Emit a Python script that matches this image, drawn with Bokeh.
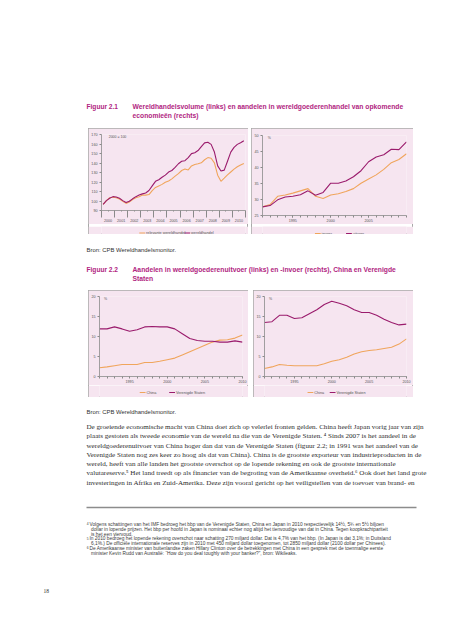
from bokeh.plotting import figure
from bokeh.models import Range1d, FixedTicker, Label, Spacer
from bokeh.layouts import column, row
from bokeh.embed import file_html
from bokeh.resources import INLINE
from bokeh.core.properties import value

# ---------------- data ----------------
quarter_years = list(range(2000, 2011))
quarters = [1, 2, 3, 4]
wereldhandel = [96.5, 100.4, 102.9, 104.6,
                104.2, 102.9, 100.4, 98.4,
                99.7, 102.3, 104.6, 106.2,
                107.5, 108.4, 111.0, 115.9,
                120.7, 122.4, 125.0, 127.2,
                130.5, 132.1, 135.3, 139.2,
                141.8, 142.4, 145.7, 149.9,
                150.8, 153.1, 157.3, 161.2,
                161.8, 159.6, 151.5, 137.0,
                131.5, 132.5, 141.8, 151.5,
                156.4, 159.6, 161.3, 163.5]
relevante_wereldhandel = [96.5, 100.4, 103.5, 104.0,
                          103.5, 102.0, 99.7, 97.5,
                          99.0, 101.5, 103.5, 104.5,
                          106.2, 106.2, 106.8, 111.0,
                          114.3, 115.9, 117.5, 119.8,
                          121.1, 123.3, 126.2, 128.8,
                          132.1, 133.7, 132.7, 136.9,
                          138.5, 139.2, 140.2, 143.4,
                          145.7, 145.0, 140.2, 127.2,
                          120.7, 124.0, 127.5, 130.5,
                          133.5, 136.0, 138.0, 139.5]

years = list(range(1991, 2011))
opk_uitvoer = [27.7, 28.1, 29.9, 30.8, 31.0, 31.5, 32.7, 31.3, 32.2, 35.1,
               35.1, 35.8, 37.1, 39.0, 41.8, 43.3, 44.0, 45.7, 45.6, 48.0]
opk_invoer = [27.7, 28.4, 31.0, 31.4, 32.0, 32.7, 33.4, 31.0, 30.3, 31.4,
              31.8, 32.5, 33.4, 35.1, 36.4, 37.7, 39.4, 41.5, 42.5, 44.3]
china_uitvoer = [2.2, 2.4, 2.7, 3.0, 3.0, 3.0, 3.5, 3.5, 3.8, 4.2,
                 4.6, 5.4, 6.2, 7.0, 7.8, 8.6, 9.1, 9.2, 9.6, 10.4]
vs_uitvoer = [11.9, 11.9, 12.4, 11.9, 11.3, 11.7, 12.4, 12.5, 12.4, 12.4,
              11.9, 10.7, 9.5, 9.0, 8.8, 8.8, 8.6, 8.6, 8.9, 8.6]
china_invoer = [2.0, 2.4, 3.0, 2.8, 2.7, 2.7, 2.7, 2.7, 3.2, 3.8,
                4.2, 4.8, 5.6, 6.2, 6.5, 6.7, 7.0, 7.3, 8.1, 9.4]
vs_invoer = [13.5, 13.7, 15.3, 15.3, 14.5, 14.7, 15.7, 16.7, 18.0, 18.8,
             18.3, 17.7, 16.7, 16.0, 16.0, 15.3, 14.3, 13.5, 12.9, 13.1]

legend_21_links = ["relevante wereldhandel", "wereldhandel"]
legend_21_rechts = ["invoer", "uitvoer"]
legend_22 = ["China", "Verenigde Staten"]
y_ticks_21_links = [90, 100, 110, 120, 130, 140, 150, 160, 170]
y_ticks_21_rechts = [25, 30, 35, 40, 45, 50]
y_ticks_22 = [0, 5, 10, 15, 20]
x_ticks_21_rechts = [1995, 2000, 2005]
x_ticks_22 = [1995, 2000, 2005, 2010]

fig21_label = "Figuur 2.1"
fig21_title = ["Wereldhandelsvolume (links) en aandelen in wereldgoederenhandel van opkomende",
               "economieën (rechts)"]
fig22_label = "Figuur 2.2"
fig22_title = ["Aandelen in wereldgoederenuitvoer (links) en -invoer (rechts), China en Verenigde",
               "Staten"]
bron = "Bron: CPB Wereldhandelsmonitor."
body = [
    "De groeiende economische macht van China doet zich op velerlei fronten gelden. China heeft Japan vorig jaar van zijn",
    "plaats gestoten als tweede economie van de wereld na die van de Verenigde Staten. \u2074 Sinds 2007 is het aandeel in de",
    "wereldgoederenuitvoer van China hoger dan dat van de Verenigde Staten (figuur 2.2; in 1991 was het aandeel van de",
    "Verenigde Staten nog zes keer zo hoog als dat van China). China is de grootste exporteur van industrieproducten in de",
    "wereld, heeft van alle landen het grootste overschot op de lopende rekening en ook de grootste internationale",
    "valutareserve.\u2075 Het land treedt op als financier van de begroting van de Amerikaanse overheid.\u2076 Ook doet het land grote",
    "investeringen in Afrika en Zuid-Amerika. Deze zijn vooral gericht op het veiligstellen van de toevoer van brand- en",
]
footnote_marks = ["4", "", "", "5", "", "6", ""]
footnotes = [
    "Volgens schattingen van het IMF bedroeg het bbp van de Verenigde Staten, China en Japan in 2010 respectievelijk 14\u00bd, 5\u00be en 5\u00bd biljoen",
    "dollar in lopende prijzen. Het bbp per hoofd in Japan is nominaal echter nog altijd het tienvoudige van dat in China. Tegen koopkrachtpariteit",
    "is het een viervoud.",
    "In 2010 bedroeg het lopende rekening overschot naar schatting 270 miljard dollar. Dat is 4,7% van het bbp. (In Japan is dat 3,1%; in Duitsland",
    "6,1%.) De offici\u00eble internationale reserves zijn in 2010 met 450 miljard dollar toegenomen, tot 2850 miljard dollar (2100 dollar per Chinees).",
    "De Amerikaanse minister van buitenlandse zaken Hillary Clinton over de betrekkingen met China in een gesprek met de toenmalige eerste",
    "minister Kevin Rudd van Australi\u00eb: \u201cHow do you deal toughly with your banker?\u201d, bron: Wikileaks.",
]
page_number = "18"

# ---------------- style ----------------
PINK = "#f6e5f0"
BORDER = "#a8a8a8"
PURPLE = "#9a1b6c"
ORANGE = "#f0a55c"
MAGENTA = "#b1257f"
AXIS = "#8a8a8a"
TICKTXT = "#555555"
SANS = "Liberation Sans"
SERIF = "Liberation Serif"
W = 453
BOX_STYLE = {"outline": f"1px solid {BORDER}", "outline-offset": "-1px"}


def make_chart(width, height, borders, xr, yr, xticks, xminor, yticks, series,
               corner_text, corner_x, tick_out, standoff, overrides=None, minor_out=2):
    l, r, t, b = borders
    p = figure(width=width, height=height, x_range=Range1d(*xr), y_range=Range1d(*yr),
               output_backend="svg", toolbar_location=None,
               min_border_left=l, min_border_right=r, min_border_top=t, min_border_bottom=b)
    p.background_fill_color = PINK
    p.border_fill_color = PINK
    p.outline_line_color = None
    p.grid.visible = False

    xa = p.xaxis[0]
    ya = p.yaxis[0]
    xa.ticker = FixedTicker(ticks=xticks, minor_ticks=xminor)
    if overrides:
        xa.major_label_overrides = overrides
    ya.ticker = FixedTicker(ticks=yticks, minor_ticks=[])
    for ax in (xa, ya):
        ax.axis_line_color = AXIS
        ax.axis_line_width = 0.8
        ax.major_tick_line_color = AXIS
        ax.minor_tick_line_color = AXIS
        ax.major_tick_in = 0
        ax.minor_tick_in = 0
        ax.major_label_text_font = SANS
        ax.major_label_text_font_size = "3.7px"
        ax.major_label_text_color = TICKTXT
    ya.major_tick_out = 2
    ya.minor_tick_out = 0
    ya.major_label_standoff = 2
    xa.major_tick_out = tick_out
    xa.minor_tick_out = minor_out
    xa.major_label_standoff = standoff

    for xs, ys, col in series:
        p.line(xs, ys, line_color=col, line_width=1.1)

    p.add_layout(Label(x=corner_x, y=yr[1], text=corner_text, text_font=SANS,
                       text_font_size="3.5px", text_color=TICKTXT, text_baseline="top"))
    return p


def legend_strip(width, height, ly, xs, labels, colors):
    p = figure(width=width, height=height, x_range=Range1d(0, width), y_range=Range1d(height, 0),
               output_backend="svg", toolbar_location=None, x_axis_type=None, y_axis_type=None,
               min_border=0, min_border_left=0, min_border_right=0, min_border_top=0, min_border_bottom=0)
    p.grid.visible = False
    p.outline_line_color = None
    p.background_fill_color = PINK
    p.border_fill_color = PINK
    p.segment(x0=xs, y0=[ly] * len(xs), x1=[x + 6.5 for x in xs], y1=[ly] * len(xs),
              line_color=colors, line_width=1.1)
    p.text(x=[x + 7.5 for x in xs], y=[ly] * len(xs), text=labels, text_font=value(SANS),
           text_font_size="3.8px", text_color=TICKTXT, text_baseline="middle")
    return p


def band(top, bottom):
    p = figure(width=W, height=bottom - top, x_range=Range1d(0, W), y_range=Range1d(bottom, top),
               output_backend="svg", toolbar_location=None, x_axis_type=None, y_axis_type=None,
               min_border=0, min_border_left=0, min_border_right=0, min_border_top=0, min_border_bottom=0)
    p.grid.visible = False
    p.outline_line_color = None
    p.background_fill_color = "white"
    p.border_fill_color = "white"
    return p


def title_block(p, label, lines, y0):
    p.text(x=[86], y=[y0], text=[label], text_font=value(SANS), text_font_style="bold",
           text_font_size="6.6px", text_color=MAGENTA, text_baseline="middle")
    p.text(x=[132] * len(lines), y=[y0 + 9.3 * i for i in range(len(lines))], text=lines,
           text_font=value(SANS), text_font_style="bold", text_font_size="6.75px",
           text_color=MAGENTA, text_baseline="middle")


# ---------------- band 1 ----------------
b1 = band(0, 128)
title_block(b1, fig21_label, fig21_title, 106)

# ---------------- charts 2.1 ----------------
qx = [yv + (q - 0.5) / 4 for yv in quarter_years for q in quarters]
c11 = make_chart(160, 96, (11, 3, 6, 7), (2000, 2011), (90, 170),
                 [yv + 0.5 for yv in quarter_years], list(range(2000, 2012)), y_ticks_21_links,
                 [(qx, relevante_wereldhandel, ORANGE), (qx, wereldhandel, PURPLE)],
                 "2000 = 100", 2000.55, 1, 1,
                 overrides={yv + 0.5: str(yv) for yv in quarter_years}, minor_out=7)
l11 = legend_strip(160, 10, 6.5, [42, 92], legend_21_links, [ORANGE, PURPLE])
c12 = make_chart(162, 96, (11, 7, 7, 8), (1991, 2010), (25, 50),
                 x_ticks_21_rechts, years, y_ticks_21_rechts,
                 [(years, opk_invoer, ORANGE), (years, opk_uitvoer, PURPLE)],
                 "%", 1991.7, 2, 1)
l12 = legend_strip(162, 10, 7, [59, 94], legend_21_rechts, [ORANGE, PURPLE])
row1 = row(Spacer(width=88, height=106), column(c11, l11, styles=BOX_STYLE),
           Spacer(width=3, height=106), column(c12, l12, styles=BOX_STYLE),
           Spacer(width=40, height=106))

# ---------------- band 3 ----------------
b3 = band(234, 290)
b3.text(x=[86], y=[249.5], text=[bron], text_font=value(SANS), text_font_size="5.9px",
        text_color="#333333", text_baseline="middle")
title_block(b3, fig22_label, fig22_title, 269)

# ---------------- charts 2.2 ----------------
c21 = make_chart(160, 95, (9, 6, 6, 7), (1991, 2010), (0, 20),
                 x_ticks_22, years, y_ticks_22,
                 [(years, china_uitvoer, ORANGE), (years, vs_uitvoer, PURPLE)],
                 "%", 1991.6, 1, 1)
l21 = legend_strip(160, 12, 7, [45, 78], legend_22, [ORANGE, PURPLE])
c22 = make_chart(160, 95, (9, 7, 6, 7), (1991, 2010), (0, 20),
                 x_ticks_22, years, y_ticks_22,
                 [(years, china_invoer, ORANGE), (years, vs_invoer, PURPLE)],
                 "%", 1991.6, 1, 1)
l22 = legend_strip(160, 12, 7, [48.5, 73.5], legend_22, [ORANGE, PURPLE])
row2 = row(Spacer(width=88, height=107), column(c21, l21, styles=BOX_STYLE),
           Spacer(width=5, height=107), column(c22, l22, styles=BOX_STYLE),
           Spacer(width=40, height=107))

# ---------------- band 5 ----------------
b5 = band(397, 640)
b5.text(x=[86], y=[411], text=[bron], text_font=value(SANS), text_font_size="5.9px",
        text_color="#333333", text_baseline="middle")
b5.text(x=[86] * len(body), y=[426.5 + 9.25 * i for i in range(len(body))], text=body,
        text_font=value(SERIF), text_font_size="7.1px", text_color="#2e2e2e", text_baseline="middle")
b5.segment(x0=[86], y0=[507], x1=[416], y1=[507], line_color="#8c8c8c", line_width=1.3)
fy = [524 + 4.8 * i for i in range(len(footnotes))]
fx = [89 if m else 90.5 for m in footnote_marks]
b5.text(x=fx, y=fy, text=footnotes, text_font=value(SANS), text_font_size="4.8px",
        text_color="#3a3a3a", text_baseline="middle")
mk_y = [yv - 0.8 for yv, m in zip(fy, footnote_marks) if m]
mk_t = [m for m in footnote_marks if m]
b5.text(x=[86.3] * len(mk_t), y=mk_y, text=mk_t, text_font=value(SANS), text_font_size="3.3px",
        text_color="#3a3a3a", text_baseline="middle")
b5.text(x=[43], y=[590], text=[page_number], text_font=value(SERIF), text_font_size="5.5px",
        text_color="#333333", text_baseline="middle")

page = column(b1, row1, b3, row2, b5)
open("out.html", "w").write(file_html(page, INLINE))
